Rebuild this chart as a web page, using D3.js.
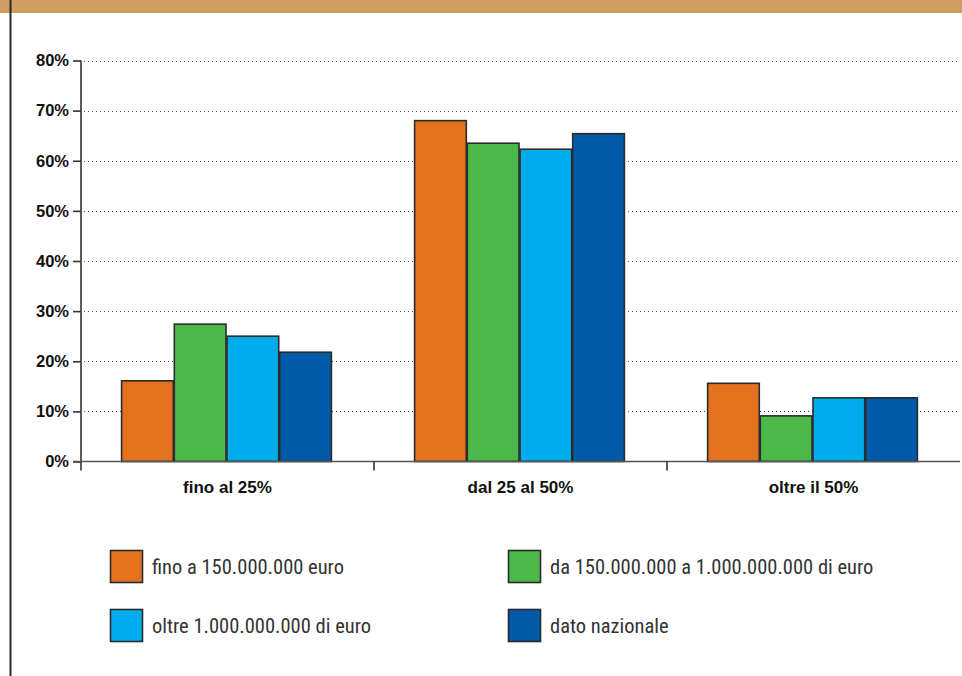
<!DOCTYPE html>
<html>
<head>
<meta charset="utf-8">
<script src="https://cdn.jsdelivr.net/npm/d3@7/dist/d3.min.js"></script>
<style>
  html, body { margin: 0; padding: 0; background: #fff; }
  svg { display: block; }
  .narrow { font-family: 'Liberation Sans Narrow', 'Arial Narrow', 'Roboto Condensed', sans-serif; }
  .bold { font-family: 'Liberation Sans', Arial, sans-serif; font-weight: bold; }
</style>
</head>
<body>
<svg id="chart" width="962" height="676"></svg>
<script>
// Quota di partecipazione per classe di bilancio
const categories = ["fino al 25%", "dal 25 al 50%", "oltre il 50%"];
const seriesNames = [
  "fino a 150.000.000 euro",
  "da 150.000.000 a 1.000.000.000 di euro",
  "oltre 1.000.000.000 di euro",
  "dato nazionale"
];
const seriesColors = ["#e4711e", "#4cb84a", "#00adec", "#005aa8"];
const valuesSmall   = [16.1, 68.0, 15.6]; // fino a 150 mln
const valuesMedium  = [27.4, 63.5, 9.1];  // 150 mln - 1 mld
const valuesLarge   = [25.0, 62.3, 12.7]; // oltre 1 mld
const valuesNational = [21.8, 65.4, 12.7]; // dato nazionale
const yTicks = [0, 10, 20, 30, 40, 50, 60, 70, 80];

const seriesValues = [valuesSmall, valuesMedium, valuesLarge, valuesNational];

const svg = d3.select("#chart");
const W = 962, H = 676;

// header band and left frame rule
svg.append("rect").attr("x", 0).attr("y", 0).attr("width", W).attr("height", 13)
  .attr("fill", "#cf9c62");
svg.append("line").attr("x1", 10.5).attr("x2", 10.5).attr("y1", 0).attr("y2", H)
  .attr("stroke", "#2a2a2a").attr("stroke-width", 2);

const plot = { left: 81, right: 960, top: 60.5, bottom: 461.5 };

const x0 = d3.scaleBand().domain(categories).range([plot.left, plot.right]).paddingInner(0).paddingOuter(0);
const x1 = d3.scaleBand().domain(d3.range(seriesNames.length))
  .range([0, x0.bandwidth()]).paddingOuter(0.78).paddingInner(0);
const y = d3.scaleLinear().domain([0, 80]).range([plot.bottom, plot.top]);

// dotted gridlines
svg.append("g").selectAll("line").data(yTicks.filter(d => d > 0)).join("line")
  .attr("x1", plot.left + 3).attr("x2", plot.right)
  .attr("y1", d => Math.round(y(d)) + 0.5).attr("y2", d => Math.round(y(d)) + 0.5)
  .attr("stroke", "#555").attr("stroke-width", 1).attr("stroke-dasharray", "1,3");

// bars
const groups = svg.append("g").selectAll("g").data(categories).join("g")
  .attr("transform", d => `translate(${x0(d) - 1},0)`);
groups.selectAll("rect")
  .data((c, ci) => seriesValues.map((vals, si) => ({ si, v: vals[ci] })))
  .join("rect")
  .attr("x", d => x1(d.si) + 0.5)
  .attr("y", d => y(d.v))
  .attr("width", x1.bandwidth() - 1)
  .attr("height", d => y(0) - y(d.v))
  .attr("fill", d => seriesColors[d.si])
  .attr("stroke", "#2b2b2b").attr("stroke-width", 1.6);

// y axis
const yAxis = d3.axisLeft(y).tickValues(yTicks).tickSize(8).tickPadding(4)
  .tickFormat(d => d + "%");
const gy = svg.append("g").attr("transform", `translate(${plot.left},0)`).call(yAxis);
gy.select(".domain").remove();
gy.selectAll(".tick line").attr("stroke", "#333").attr("stroke-width", 1.6);
gy.selectAll(".tick text").attr("class", "bold").style("font-size", "16.5px")
  .attr("fill", "#111");
svg.append("line").attr("x1", plot.left).attr("x2", plot.left)
  .attr("y1", plot.top).attr("y2", plot.bottom + 9)
  .attr("stroke", "#333").attr("stroke-width", 1.6);

// x axis baseline and group separators
svg.append("line").attr("x1", plot.left - 8).attr("x2", plot.right)
  .attr("y1", plot.bottom).attr("y2", plot.bottom)
  .attr("stroke", "#555").attr("stroke-width", 1.6);
const gx = svg.append("g").attr("transform", `translate(0,${plot.bottom})`)
  .call(d3.axisBottom(x0).tickSize(0).tickPadding(19));
gx.select(".domain").remove();
gx.selectAll(".tick text").attr("class", "bold").style("font-size", "17px")
  .attr("fill", "#111");
svg.append("g").selectAll("line").data(categories.slice(1)).join("line")
  .attr("x1", d => x0(d)).attr("x2", d => x0(d))
  .attr("y1", plot.bottom).attr("y2", plot.bottom + 9)
  .attr("stroke", "#333").attr("stroke-width", 1.6);

// legend
const legendPos = [[110, 550], [508, 550], [110, 609], [508, 609]];
const legend = svg.append("g").selectAll("g").data(seriesNames).join("g")
  .attr("transform", (d, i) => `translate(${legendPos[i][0]},${legendPos[i][1]})`);
legend.append("rect").attr("x", 0.5).attr("y", 0.5).attr("width", 32).attr("height", 32)
  .attr("fill", (d, i) => seriesColors[i]).attr("stroke", "#2b2b2b").attr("stroke-width", 1.6);
legend.append("text").attr("class", "narrow").attr("x", 42).attr("y", 24)
  .style("font-size", "20.5px").attr("fill", "#333").text(d => d);
</script>
</body>
</html>
